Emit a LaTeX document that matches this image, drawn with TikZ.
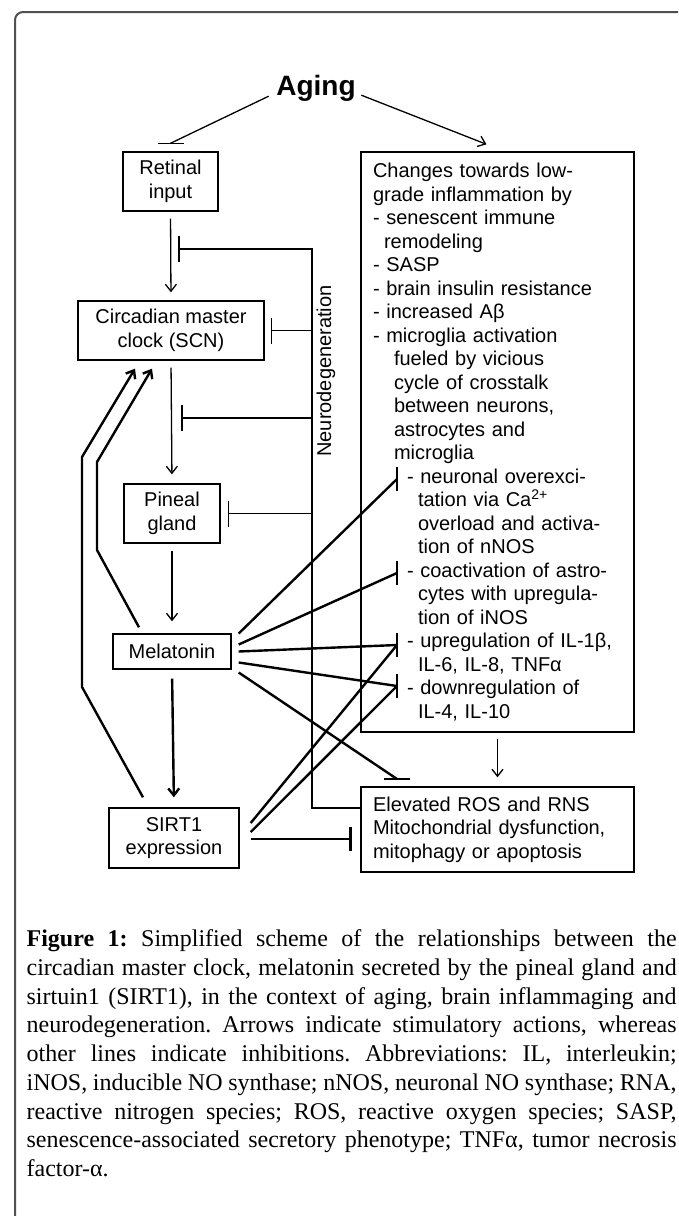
\documentclass[tikz,border=0pt]{standalone}
\usepackage{fontspec}
\setmainfont{Liberation Serif}
\newfontfamily\arialfont{Liberation Sans}
\usetikzlibrary{arrows.meta,calc}
\tolerance=10000
\frenchspacing
\definecolor{framegray}{HTML}{505050}
\newcommand{\boxfont}{\arialfont\fontsize{20}{23.5}\selectfont}
\newcommand{\agingfont}{\arialfont\bfseries\fontsize{28}{30}\selectfont}
\newcommand{\captionfont}{\fontsize{24}{28.75}\selectfont}
\tikzset{
  box/.style={draw, line width=1.4pt, font=\boxfont, align=center, inner sep=0pt},
  thick line/.style={line width=2.4pt},
}

\begin{document}
\begin{tikzpicture}[x=1pt,y=-1pt,line width=1.3pt,>={Straight Barb[length=7pt,width=11pt]}]
\useasboundingbox (0,0) rectangle (678,1216);
\draw[framegray, line width=2pt, rounded corners=8pt] (15,1216) -- (15,12) -- (678,12);

\node[font=\agingfont, inner sep=0pt] (aging) at (316,88) {Aging};

\node[box, minimum width=95pt, minimum height=59pt] (retinal) at (170.5,181.5) {Retinal\\input};
\node[box, minimum width=186pt, minimum height=59pt] (scn) at (171,330.5) {Circadian master\\clock (SCN)};
\node[box, minimum width=96pt, minimum height=59pt] (pineal) at (172,513.5) {Pineal\\gland};
\node[box, minimum width=118pt, minimum height=35pt] (melatonin) at (172,651.5) {Melatonin};
\node[box, minimum width=130pt, minimum height=60pt] (sirt) at (174,838) {SIRT1\\expression};

\node[box, minimum width=273pt, minimum height=580pt, text width=249pt, align=left] (changes) at (497.5,442) {Changes towards low-\\
grade inflammation by\\
- senescent immune\\
\hspace*{11pt}remodeling\\
- SASP\\
- brain insulin resistance\\
- increased Aβ\\
- microglia activation\\
\hspace*{21pt}fueled by vicious\\
\hspace*{21pt}cycle of crosstalk\\
\hspace*{21pt}between neurons,\\
\hspace*{21pt}astrocytes and\\
\hspace*{21pt}microglia\\
\hspace*{34pt}- neuronal overexci-\\
\hspace*{45pt}tation via Ca\smash{\textsuperscript{2+}}\\
\hspace*{45pt}overload and activa-\\
\hspace*{45pt}tion of nNOS\\
\hspace*{34pt}- coactivation of astro-\\
\hspace*{45pt}cytes with upregula-\\
\hspace*{45pt}tion of iNOS\\
\hspace*{34pt}- upregulation of IL-1β,\\
\hspace*{45pt}IL-6, IL-8, TNFα\\
\hspace*{34pt}- downregulation of\\
\hspace*{45pt}IL-4, IL-10};
\node[box, minimum width=273pt, minimum height=85pt, text width=249pt, align=left] (ros) at (497.5,829.5) {Elevated ROS and RNS\\Mitochondrial dysfunction,\\mitophagy or apoptosis};

\node[font=\boxfont, rotate=90, inner sep=0pt] (neuro) at (326,371) {Neurodegeneration};

% aging
\coordinate (retbar) at ($(retinal.north)+(0,-8)$);
\coordinate (chgtip) at ($(changes.north)+(-11,-7)$);
\draw ($(aging.base west)+(-7,1)$) -- (retbar);
\draw (retbar) ++(-13,0) -- ++(26,0);
\draw[->] ($(aging.base east)+(5,0)$) -- (chgtip);

% main chain
\draw[->, shorten <=7pt, shorten >=8pt] (retinal.south) -- (scn.north);
\draw[->, shorten <=7pt, shorten >=9pt] (scn.south) -- (pineal.north);
\draw[->, shorten <=7pt, shorten >=12pt] (pineal.south) -- (melatonin.north);
\draw[->, thick line, shorten <=9pt, shorten >=10pt] (melatonin.south) -- (sirt.north);
\draw[->, shorten <=6pt, shorten >=9pt] (changes.south) -- (ros.north);

\draw[->, thick line] ($(sirt.north)+(-31,-10)$) -- (82,687) -- (82,457) -- ($(scn.south)+(-36,8)$);
\draw[->, thick line] ($(melatonin.north)+(-33,-6)$) -- (97,550) -- (97,462) -- ($(scn.south)+(-19,8)$);

% neurodegeneration
\coordinate (nrtop) at (312,249);
\coordinate (nrbot) at (312,808);
\coordinate (inh1) at (179,249);
\coordinate (inh2) at ($(scn.east)+(7,0)$);
\coordinate (inh3) at (182,418);
\coordinate (inh4) at ($(pineal.east)+(8,0)$);
\draw (inh1) -- (nrtop) -- (nrbot) -- (nrbot -| ros.west);
\draw (inh2) -- (inh2 -| nrtop);
\draw (inh3) -- (inh3 -| nrtop);
\draw (inh4) -- (inh4 -| nrtop);
\foreach \b in {inh1,inh2,inh3,inh4}
  \draw (\b) ++(0,-13) -- ++(0,26);

% melatonin and sirt1
\coordinate (bneu) at (397,479);
\coordinate (bcoa) at (397,573);
\coordinate (bup) at (397,645);
\coordinate (bdown) at (397,686);
\coordinate (rosbar) at (397,779);
\coordinate (sbar) at ($(ros.west |- sirt.east)+(-10,1)$);
\draw[thick line] ($(melatonin.east)+(7,-18)$) -- (bneu);
\draw[thick line] ($(melatonin.east)+(7,-7)$) -- (bcoa);
\draw[thick line] ($(melatonin.east)+(7,0)$) -- (bup);
\draw[thick line] ($(melatonin.east)+(7,11)$) -- (bdown);
\draw[thick line] ($(melatonin.east)+(7,21)$) -- (rosbar);
\draw[thick line] ($(sirt.east)+(11,-15)$) -- (bup);
\draw[thick line] ($(sirt.east)+(11,-6)$) -- (bdown);
\draw[thick line] ($(sirt.east)+(11,1)$) -- (sbar);
\foreach \b in {bneu,bcoa,bup,bdown,sbar}
  \draw[thick line] (\b) ++(0,-12) -- ++(0,24);
\draw[thick line] (rosbar) ++(-13,0) -- ++(26,0);

\node[anchor=north west, text width=650pt, align=justify, font=\captionfont, inner sep=0pt] (caption) at (26,929) {\textbf{Figure 1:} Simplified scheme of the relationships between the\linebreak
circadian master clock, melatonin secreted by the pineal gland and\linebreak
sirtuin1 (SIRT1), in the context of aging, brain inflammaging and\linebreak
neurodegeneration. Arrows indicate stimulatory actions, whereas\linebreak
other lines indicate inhibitions. Abbreviations: IL, interleukin;\linebreak
iNOS, inducible NO synthase; nNOS, neuronal NO synthase; RNA,\linebreak
reactive nitrogen species; ROS, reactive oxygen species; SASP,\linebreak
senescence-associated secretory phenotype; TNFα, tumor necrosis\linebreak
factor-α.};
\end{tikzpicture}
\end{document}
